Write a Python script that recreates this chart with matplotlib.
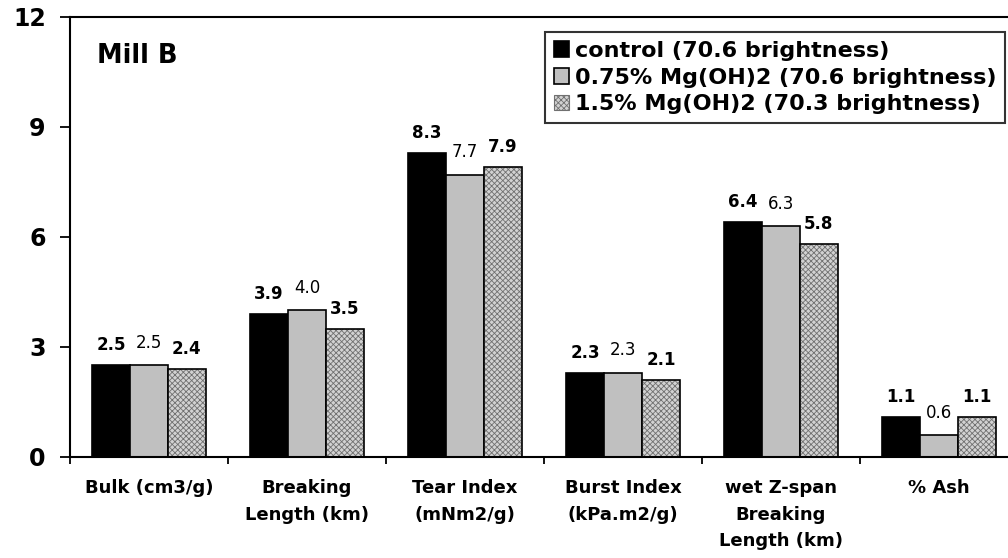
import numpy as np
import matplotlib
matplotlib.use('Agg')
import matplotlib.pyplot as plt

plt.rcParams['font.family'] = ['DejaVu Sans']
plt.rcParams['hatch.linewidth'] = 0.6

categories = ['Bulk (cm3/g)', 'Breaking\nLength (km)', 'Tear Index\n(mNm2/g)',
              'Burst Index\n(kPa.m2/g)', 'wet Z-span\nBreaking\nLength (km)', '% Ash']
series_names = ['control (70.6 brightness)', '0.75% Mg(OH)2 (70.6 brightness)',
                '1.5% Mg(OH)2 (70.3 brightness)']
control = [2.5, 3.9, 8.3, 2.3, 6.4, 1.1]
mg075 = [2.5, 4.0, 7.7, 2.3, 6.3, 0.6]
mg15 = [2.4, 3.5, 7.9, 2.1, 5.8, 1.1]
yticks = [0, 3, 6, 9, 12]

fig = plt.figure(figsize=(10.08, 5.58), dpi=100)
ax = fig.add_axes([70 / 1008, 101 / 558, 948 / 1008, 440 / 558])

x = np.arange(len(categories))
w = 0.24
hatch_face, hatch_col = '#d2d2d2', '#707070'

ax.bar(x - w, control, w, color='black', edgecolor='black', linewidth=1.2, label=series_names[0])
ax.bar(x, mg075, w, color='#c0c0c0', edgecolor='black', linewidth=1.2, label=series_names[1])
ax.bar(x + w, mg15, w, color=hatch_face, edgecolor=hatch_col, hatch='xxxxxx', linewidth=0)
ax.bar(x + w, mg15, w, fill=False, edgecolor='black', linewidth=1.2)
# legend proxy for the hatched series
hp = plt.Rectangle((0, 0), 1, 1, facecolor=hatch_face, edgecolor=hatch_col, hatch='xxxxxx', linewidth=0.8)

for xs, vals, wt, off in [(x - w, control, 'bold', 0.3), (x, mg075, 'normal', 0.36), (x + w, mg15, 'bold', 0.3)]:
    for xi, v in zip(xs, vals):
        ax.text(xi, v + off, f'{v:.1f}', ha='center', va='bottom', fontsize=12, fontweight=wt)

ax.set_xlim(-0.5, 5.5)
ax.set_ylim(0, 12)
ax.set_yticks(yticks)
ax.set_yticklabels([str(t) for t in yticks], fontsize=17, fontweight='bold')
ax.set_xticks(x)
ax.set_xticklabels(categories, fontsize=13, fontweight='bold', va='top', linespacing=1.6)
ax.set_xticks(np.arange(-0.5, 6, 1), minor=True)
ax.tick_params(axis='x', which='major', length=0, pad=16)
ax.tick_params(axis='x', which='minor', length=5, width=1.3, direction='out')
ax.tick_params(axis='y', length=7.5, width=1.3, direction='out', pad=10)

for s in ['left', 'top', 'bottom']:
    ax.spines[s].set_linewidth(1.5)
ax.spines['right'].set_visible(False)

ax.text(0.0285, 0.94, 'Mill B', transform=ax.transAxes, fontsize=18.5, fontweight='bold', va='top')

handles, labels = ax.get_legend_handles_labels()
handles.append(hp)
labels.append(series_names[2])
leg = fig.legend(handles, labels, loc='upper right', bbox_to_anchor=(1005 / 1008, 1 - 32 / 558),
                 prop={'weight': 'bold', 'size': 16}, frameon=True, fancybox=False,
                 edgecolor='black', handlelength=0.7, handleheight=0.7, handletextpad=0.25,
                 labelspacing=0.3, borderpad=0.4, borderaxespad=0)
leg.get_frame().set_linewidth(1.5)

fig.savefig('out.png', dpi=100, facecolor='white')
